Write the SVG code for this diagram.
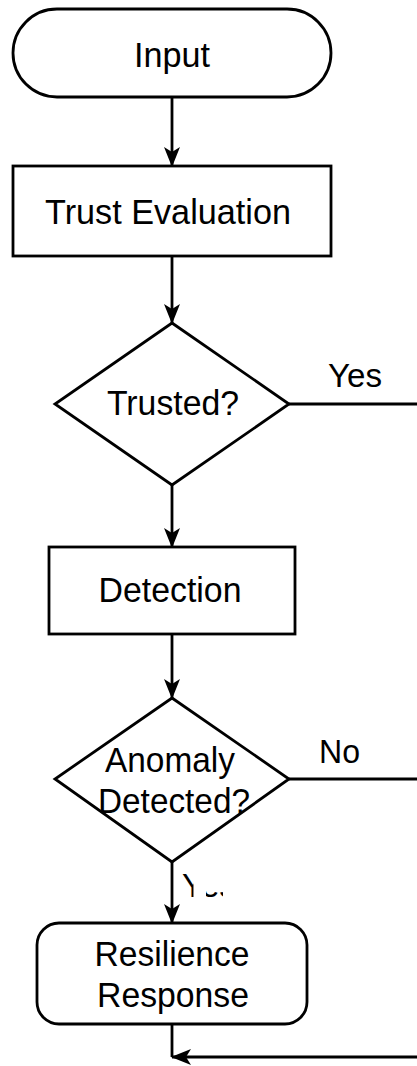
<svg xmlns="http://www.w3.org/2000/svg" width="417" height="1066" viewBox="0 0 417 1066">
<style>
.s{fill:#fff;stroke:#000;stroke-width:2.8}
.t{font-family:"Liberation Sans",Arial,sans-serif;font-size:35px;fill:#000;text-anchor:middle}
.l{font-family:"Liberation Sans",Arial,sans-serif;font-size:33px;fill:#000}
.c{fill:none;stroke:#000;stroke-width:2.8}
</style>
<defs>
<marker id="ah" viewBox="0 0 20 16" refX="19" refY="8" markerWidth="20" markerHeight="16" markerUnits="userSpaceOnUse" orient="auto">
<path d="M20,8 L0,0 L5,8 L0,16 Z" fill="#000"/>
</marker>
<clipPath id="yc">
<rect x="180" y="864" width="13.5" height="36"/>
<rect x="206" y="891" width="17" height="9"/>
</clipPath>
</defs>
<rect width="417" height="1066" fill="#fff"/>
<g id="connectors">
<line class="c" x1="172" y1="97" x2="172" y2="166" marker-end="url(#ah)"/>
<line class="c" x1="172" y1="256" x2="172" y2="323" marker-end="url(#ah)"/>
<line class="c" x1="289" y1="404" x2="417" y2="404"/>
<line class="c" x1="172" y1="485" x2="172" y2="547" marker-end="url(#ah)"/>
<line class="c" x1="172" y1="634" x2="172" y2="698" marker-end="url(#ah)"/>
<line class="c" x1="289" y1="779" x2="417" y2="779"/>
<line class="c" x1="172" y1="862" x2="172" y2="923" marker-end="url(#ah)"/>
<line class="c" x1="172" y1="1024" x2="172" y2="1057"/>
<line class="c" x1="417" y1="1057" x2="172" y2="1057" marker-end="url(#ah)"/>
<text class="l" x="328" y="387" textLength="54" lengthAdjust="spacingAndGlyphs">Yes</text>
<text class="l" x="319" y="763" textLength="41" lengthAdjust="spacingAndGlyphs">No</text>
<text class="l" x="182" y="897" clip-path="url(#yc)">Yes</text>
</g>
<g id="input">
<rect class="s" x="13" y="9" width="318" height="88" rx="44" ry="44"/>
<text class="t" x="172" y="67" textLength="76" lengthAdjust="spacingAndGlyphs">Input</text>
</g>
<g id="trust-evaluation">
<rect class="s" x="13" y="166" width="318" height="90"/>
<text class="t" x="168" y="224" textLength="246" lengthAdjust="spacingAndGlyphs">Trust Evaluation</text>
</g>
<g id="trusted">
<polygon class="s" points="172,323 289,404 172,485 55,404"/>
<text class="t" x="173" y="415" textLength="132" lengthAdjust="spacingAndGlyphs">Trusted?</text>
</g>
<g id="detection">
<rect class="s" x="49" y="547" width="246" height="87"/>
<text class="t" x="170" y="602" textLength="143" lengthAdjust="spacingAndGlyphs">Detection</text>
</g>
<g id="anomaly">
<polygon class="s" points="172,698 289,779 172,862 55,779"/>
<text class="t" x="170" y="772" textLength="130" lengthAdjust="spacingAndGlyphs">Anomaly</text>
<text class="t" x="174" y="813" textLength="152" lengthAdjust="spacingAndGlyphs">Detected?</text>
</g>
<g id="resilience">
<rect class="s" x="37" y="923" width="270" height="101" rx="22" ry="22"/>
<text class="t" x="172" y="966" textLength="155" lengthAdjust="spacingAndGlyphs">Resilience</text>
<text class="t" x="173" y="1007" textLength="152" lengthAdjust="spacingAndGlyphs">Response</text>
</g>
</svg>
